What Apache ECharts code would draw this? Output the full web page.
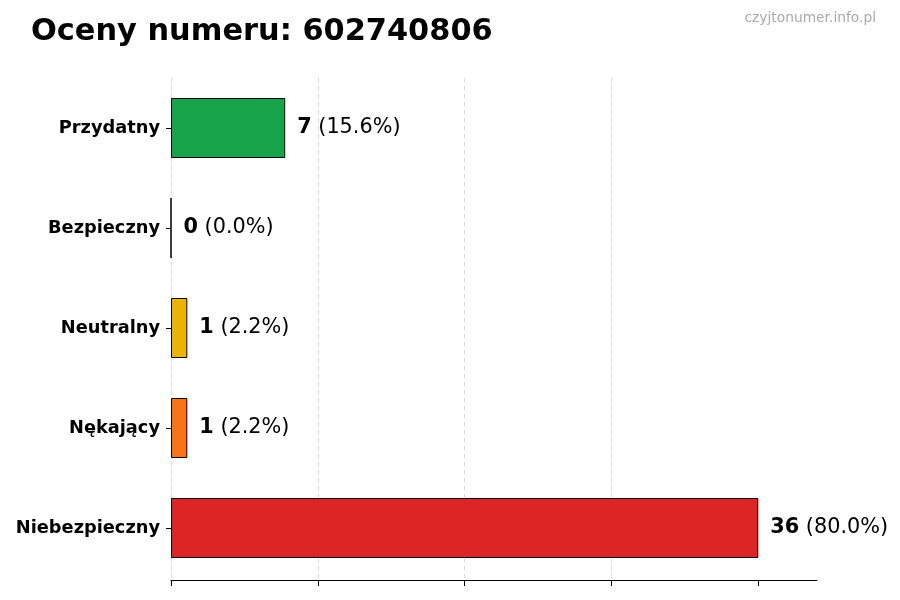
<!DOCTYPE html>
<html><head><meta charset="utf-8">
<script src="https://cdn.jsdelivr.net/npm/echarts@6/dist/echarts.min.js"></script>
<style>html,body{margin:0;padding:0;background:#fff}#c{width:900px;height:600px}</style>
</head><body><div id="c"></div>
<script>
const categories = ['Przydatny', 'Bezpieczny', 'Neutralny', 'Nękający', 'Niebezpieczny'];
const counts = [7, 0, 1, 1, 36];
const percents = ['15.6', '0.0', '2.2', '2.2', '80.0'];
const colors = ['#16a34a', '#15803d', '#eab308', '#f97316', '#dc2626'];
const xTicks = [0, 9, 18, 27, 36];
const titleText = 'Oceny numeru: 602740806';
const watermark = 'czyjtonumer.info.pl';

const FONT = 'DejaVu Sans';
const chart = echarts.init(document.getElementById('c'));
chart.setOption({
  animation: false,
  backgroundColor: '#fff',
  textStyle: { fontFamily: FONT },
  title: [
    { text: titleText, left: 31, top: 17, padding: 0, textStyle: { fontFamily: FONT, fontSize: 30.4, fontWeight: 'bold', color: '#000' } },
    { text: watermark, right: 24, top: 11, padding: 0, textStyle: { fontFamily: FONT, fontSize: 13.8, fontWeight: 'normal', color: '#aaaaaa' } }
  ],
  grid: { left: 171, right: 83, top: 78, bottom: 22, containLabel: false },
  xAxis: {
    type: 'value', min: 0, max: 39.6, interval: 9, offset: 2,
    axisLine: { show: true, lineStyle: { color: '#000', width: 1 } },
    axisTick: { show: true, length: 6, lineStyle: { color: '#000' }, customValues: xTicks },
    axisLabel: { show: false },
    splitLine: { show: true, showMinLine: true, showMaxLine: false, lineStyle: { color: '#dddddd', type: [5, 3], width: 1 } }
  },
  yAxis: {
    type: 'category', data: categories, inverse: true,
    axisLine: { show: false },
    axisTick: { show: true, alignWithLabel: true, length: 5, lineStyle: { color: '#000' } },
    axisLabel: { margin: 11, fontFamily: FONT, fontSize: 17.8, fontWeight: 'bold', color: '#000', padding: [2, 0, 0, 0] },
    splitLine: { show: false }
  },
  series: [{
    type: 'bar',
    barWidth: '60%',
    data: counts.map((v, i) => ({ value: v, itemStyle: { color: colors[i] } })),
    itemStyle: { borderColor: '#000', borderWidth: 1 },
    label: {
      show: true, position: 'right', distance: 12,
      formatter: p => '{b|' + counts[p.dataIndex] + '}{n| (' + percents[p.dataIndex] + '%)}',
      rich: {
        b: { fontFamily: FONT, fontSize: 20.8, fontWeight: 'bold', color: '#000' },
        n: { fontFamily: FONT, fontSize: 20.8, fontWeight: 'normal', color: '#000' }
      }
    }
  }]
});
</script></body></html>
